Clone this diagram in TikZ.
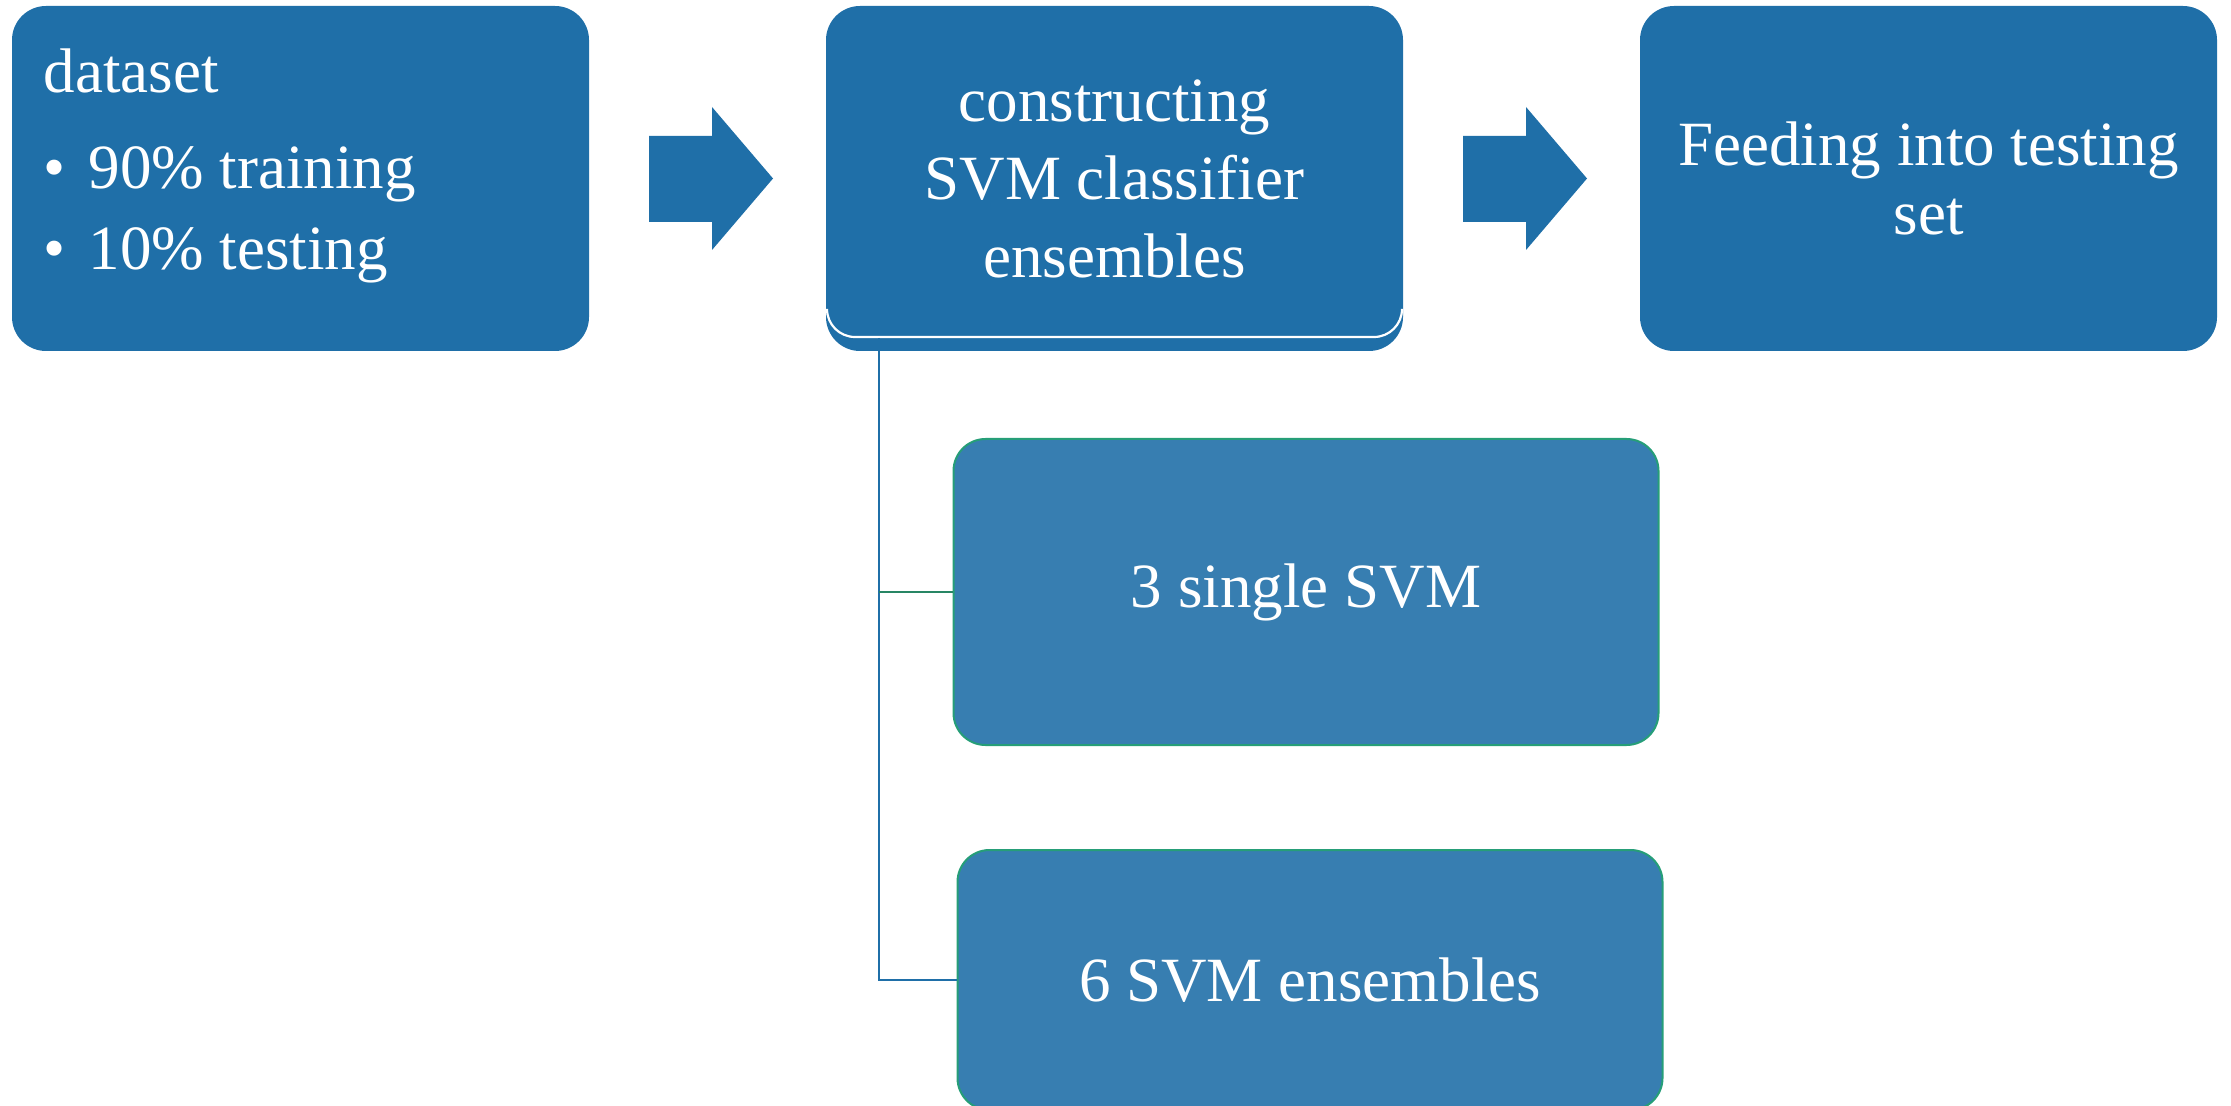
\documentclass[tikz,border=0pt]{standalone}
\usepackage{fontspec}
\setmainfont{Liberation Serif}
\definecolor{boxblue}{RGB}{31,111,168}
\definecolor{subblue}{RGB}{55,126,177}
\definecolor{subedge}{RGB}{38,158,120}
\definecolor{linkgreen}{RGB}{40,134,100}
\tikzset{every picture/.style={line width=0.75pt}}
\tikzset{
	bigfont/.style={font=\fontsize{31.5}{39}\selectfont},
	mainbox/.style={fill=boxblue, rounded corners=17pt, text=white, align=center, inner sep=0pt,
		minimum width=288.5pt, minimum height=172.5pt, bigfont},
	subbox/.style={fill=subblue, draw=subedge, line width=1pt, rounded corners=16pt, text=white,
		inner sep=0pt, minimum width=352.5pt, bigfont},
	link/.style={line width=1.1pt}}

\begin{document}
\begin{tikzpicture}[x=0.5pt,y=0.5pt,yscale=-1,xscale=1]
	\useasboundingbox (0,0) rectangle (2231,1106);

	%Rounded Rect top row
	\node[mainbox] (dataset) at (300.5,178.5) {};
	\node[anchor=north west, inner sep=0pt, align=left, text=white, bigfont] (datatext) at (43,48)
		{dataset\\[9pt]\makebox[22.5pt][l]{•}90\% training\\[1.5pt]\makebox[22.5pt][l]{•}10\% testing};
	\node[mainbox] (build) at (1114.5,178.5) {constructing\\SVM classifier\\ensembles};
	\node[mainbox, font=\fontsize{31.5}{34.5}\selectfont] (feed) at (1928.5,178.5) {Feeding into testing\\set};

	%front edge of the stacked box
	\draw[white, line width=1.1pt, rounded corners=14pt] (827,310) -- (827,337) -- (1402,337) -- (1402,310);

	%Block arrows
	\foreach \ax in {649,1463}
		\fill[boxblue] (\ax,136) -- ++(63,0) -- ++(0,-29) -- ++(61,71.5) -- ++(-61,71.5) -- ++(0,-28) -- ++(-63,0) -- cycle;

	%Rounded Rect children
	\node[subbox, minimum height=153pt] (single) at (1306,592) {3 single SVM};
	\node[subbox, minimum height=130pt] (ensembles) at (1310,980) {6 SVM ensembles};

	%Straight Lines
	\coordinate (trunk) at (879,338);
	\draw[link, boxblue] (trunk) |- (ensembles.west);
	\draw[link, linkgreen] (trunk |- single.west) -- (single.west);

\end{tikzpicture}
\end{document}
